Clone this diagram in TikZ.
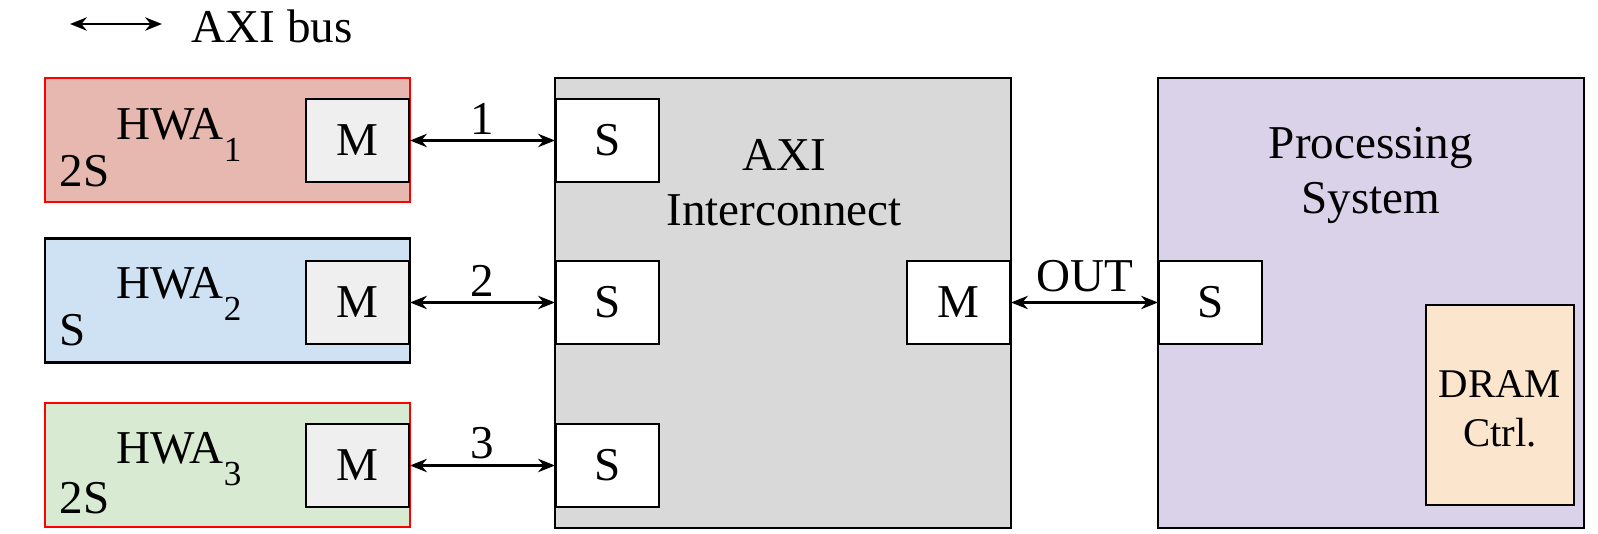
\documentclass[tikz,border=0pt]{standalone}
\usepackage{fontspec}
\setmainfont{Liberation Serif}
\usepackage{xcolor}
\usepackage{tikz}
\usetikzlibrary{arrows.meta,positioning}
\definecolor{hwaRed}{HTML}{E6B8AF}
\definecolor{hwaBlue}{HTML}{CFE2F3}
\definecolor{hwaGreen}{HTML}{D9EAD3}
\definecolor{icGray}{HTML}{D9D9D9}
\definecolor{psPurple}{HTML}{D9D2E9}
\definecolor{dramPeach}{HTML}{FCE5CD}
\definecolor{portGray}{HTML}{EFEFEF}
\newcommand{\hwasub}[1]{\raisebox{-6.2pt}{\fontsize{10}{11}\selectfont #1}}

\begin{document}
\begin{tikzpicture}[every node/.style={font=\fontsize{13.4}{15.9}\selectfont},
    block/.style={draw, line width=0.6pt, inner sep=0pt},
    hwabox/.style={block, minimum width=3.65cm, minimum height=1.24cm},
    port/.style={block, minimum width=1.03cm, minimum height=0.83cm},
    label/.style={inner sep=0pt},
    bus/.style={<->, >={Stealth[length=4.8pt,width=3.8pt]}, line width=0.6pt},
    buslabel/.style={above, inner sep=1.5pt}]

    \useasboundingbox (0,0) rectangle (15.98,5.34);

    % === Legend ===
    \coordinate (legL) at (0.70,5.10);
    \coordinate (legR) at (1.62,5.10);
    \draw[bus] (legL) -- (legR);
    \node[label, anchor=base west] (legTxt) at (1.91,4.91) {AXI bus};

    % === Hardware accelerators ===
    \node[hwabox, fill=hwaRed, draw=red, line width=0.7pt] (hwa1) at (2.275,3.94) {};
    \node[hwabox, fill=hwaBlue] (hwa2) at (2.275,2.335) {};
    \node[hwabox, fill=hwaGreen, draw=red, line width=0.7pt] (hwa3) at (2.275,0.69) {};
    \foreach \i/\y/\tagy/\tag in {1/3.94/3.47/2S, 2/2.35/1.88/S, 3/0.70/0.20/2S} {
      \node[label, anchor=base west] (hwaName\i) at (1.16,\y) {HWA\hwasub{\i}};
      \node[label, anchor=base west] (hwaTag\i) at (0.59,\tagy) {\tag};
    }

    % === AXI interconnect ===
    \node[block, fill=icGray, minimum width=4.56cm, minimum height=4.50cm] (ic) at (7.83,2.31) {};
    \node[label, align=center, anchor=base] (icName) at (7.84,3.08) {AXI\\Interconnect};
    \node[port, fill=white, anchor=east] (icM) at (10.11,2.315) {M};

    % === Processing system ===
    \node[block, fill=psPurple, minimum width=4.26cm, minimum height=4.50cm] (ps) at (13.71,2.31) {};
    \node[label, align=center, anchor=base] (psName) at (13.71,3.20) {Processing\\System};
    \node[port, fill=white, anchor=west] (psS) at (11.58,2.315) {S};
    \node[block, fill=dramPeach, minimum width=1.48cm, minimum height=2.0cm] (dram) at (15.00,1.29) {};
    \node[label, align=center, anchor=base, font=\fontsize{11.6}{14.2}\selectfont]
      (dramName) at (15.00,0.87) {DRAM\\Ctrl.};

    % === Ports and buses ===
    \foreach \i/\y in {1/3.935, 2/2.315, 3/0.685} {
      \node[port, fill=portGray, anchor=east] (m\i) at (4.10,\y) {M};
      \node[port, fill=white, anchor=west] (s\i) at (5.55,\y) {S};
      \draw[bus] (m\i) -- node[buslabel] {\i} (s\i);
    }
    \draw[bus] (icM) -- node[buslabel, inner sep=2.8pt] {OUT} (psS);
\end{tikzpicture}
\end{document}
